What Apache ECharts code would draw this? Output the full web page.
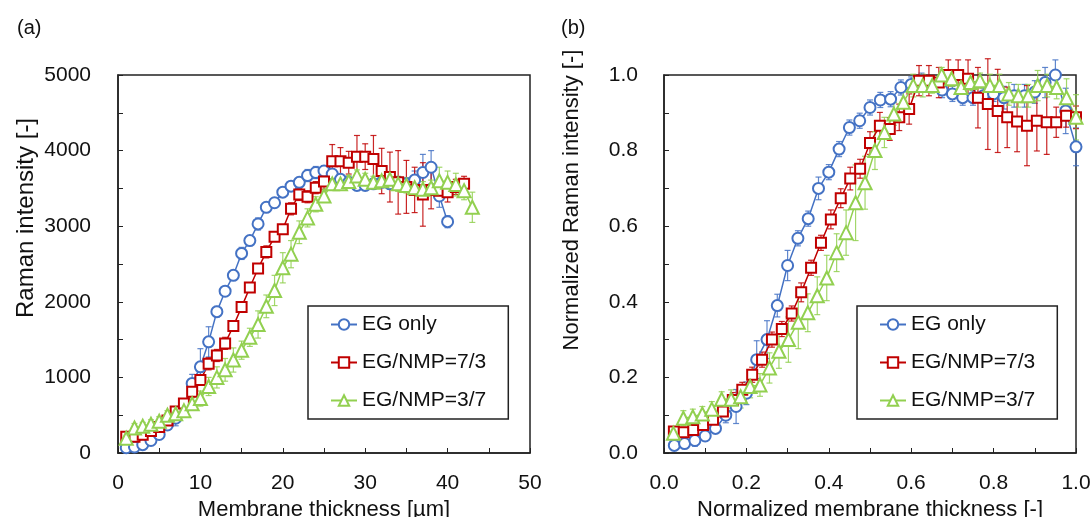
<!DOCTYPE html>
<html><head><meta charset="utf-8">
<script src="https://cdn.jsdelivr.net/npm/echarts@6/dist/echarts.min.js"></script>
<style>html,body{margin:0;padding:0;background:#fff}#c{width:1090px;height:517px}</style>
</head><body><div id="c"></div>
<script>
const seriesNames = ['EG only', 'EG/NMP=7/3', 'EG/NMP=3/7'];
const panelLabels = ['(a)', '(b)'];
const axisNamesA = ['Membrane thickness [µm]', 'Raman intensity [-]'];
const axisNamesB = ['Normalized membrane thickness [-]', 'Normalized Raman intensity [-]'];

// ---------- Panel (a): Raman intensity vs membrane thickness ----------
const thickBlueA = [1,2,3,4,5,6,7,8,9,10,11,12,13,14,15,16,17,18,19,20,21,22,23,24,25,26,27,28,29,30,31,32,33,34,35,36,37,38,39,40];
const ramanBlueA = [70,80,110,165,245,370,460,600,920,1140,1470,1870,2140,2350,2640,2810,3030,3250,3310,3450,3530,3580,3670,3710,3730,3690,3620,3580,3540,3540,3560,3580,3560,3580,3560,3610,3710,3780,3400,3060];
const errBlueA = [20,20,30,30,40,40,100,60,120,240,200,70,60,60,80,60,80,60,50,60,60,60,80,80,70,60,60,60,60,60,60,60,60,60,80,120,240,220,150,80];

const thickRedA = [1,2,3,4,5,6,7,8,9,10,11,12,13,14,15,16,17,18,19,20,21,22,23,24,25,26,27,28,29,30,31,32,33,34,35,36,37,38,39,40,41,42];
const ramanRedA = [215,215,240,290,345,430,550,655,810,965,1180,1290,1450,1680,1930,2190,2440,2660,2860,2960,3230,3420,3390,3510,3590,3860,3860,3840,3920,3920,3890,3730,3650,3580,3520,3480,3420,3480,3470,3450,3520,3560];
const errRedA = [30,30,30,40,40,50,60,60,60,60,80,80,80,60,60,60,60,80,60,60,80,80,80,80,100,220,180,150,280,170,310,300,330,420,350,300,420,250,130,130,100,100];

const thickGreenA = [1,2,3,4,5,6,7,8,9,10,11,12,13,14,15,16,17,18,19,20,21,22,23,24,25,26,27,28,29,30,31,32,33,34,35,36,37,38,39,40,41,42,43];
const ramanGreenA = [195,330,355,380,420,500,520,560,650,720,880,1000,1100,1230,1360,1530,1700,1940,2150,2450,2630,2920,3110,3290,3400,3560,3560,3590,3665,3620,3580,3600,3620,3560,3540,3510,3490,3510,3600,3580,3550,3470,3250];
const errGreenA = [40,60,50,60,60,60,80,80,80,100,120,140,150,160,120,120,180,150,200,200,180,150,120,100,80,80,80,80,80,80,80,80,80,100,100,100,100,100,180,150,150,120,200];

// ---------- Panel (b): normalized ----------
const thickBlueB = [0.025,0.05,0.075,0.1,0.125,0.15,0.175,0.2,0.225,0.25,0.275,0.3,0.325,0.35,0.375,0.4,0.425,0.45,0.475,0.5,0.525,0.55,0.575,0.6,0.625,0.65,0.675,0.7,0.725,0.75,0.775,0.8,0.825,0.85,0.875,0.9,0.925,0.95,0.975,1.0];
const normBlueB = [0.02,0.025,0.033,0.045,0.065,0.10,0.123,0.158,0.247,0.30,0.39,0.496,0.568,0.62,0.70,0.743,0.804,0.861,0.879,0.914,0.934,0.936,0.967,0.975,0.985,0.975,0.96,0.95,0.94,0.94,0.945,0.95,0.94,0.945,0.945,0.955,0.98,1.0,0.905,0.81];
const errBlueB = [0.01,0.01,0.015,0.01,0.01,0.02,0.045,0.03,0.05,0.05,0.03,0.04,0.02,0.02,0.03,0.02,0.02,0.02,0.02,0.02,0.02,0.02,0.02,0.02,0.02,0.02,0.02,0.02,0.02,0.02,0.02,0.02,0.03,0.03,0.03,0.03,0.04,0.04,0.06,0.05];

const thickRedB = [0.024,0.048,0.071,0.095,0.119,0.143,0.167,0.19,0.214,0.238,0.262,0.286,0.31,0.333,0.357,0.381,0.405,0.429,0.452,0.476,0.5,0.524,0.548,0.571,0.595,0.619,0.643,0.667,0.69,0.714,0.738,0.762,0.786,0.81,0.833,0.857,0.881,0.905,0.929,0.952,0.976,1.0];
const normRedB = [0.057,0.055,0.061,0.074,0.088,0.11,0.14,0.167,0.207,0.247,0.30,0.328,0.369,0.425,0.49,0.556,0.618,0.674,0.726,0.752,0.82,0.866,0.857,0.888,0.91,0.985,0.985,0.98,1.0,1.0,0.99,0.94,0.923,0.905,0.888,0.877,0.866,0.879,0.875,0.875,0.892,0.888];
const errRedB = [0.01,0.01,0.01,0.01,0.015,0.015,0.02,0.02,0.02,0.02,0.02,0.02,0.02,0.025,0.02,0.02,0.025,0.025,0.03,0.025,0.03,0.035,0.03,0.035,0.04,0.04,0.04,0.04,0.04,0.04,0.05,0.08,0.12,0.11,0.08,0.08,0.106,0.08,0.085,0.04,0.03,0.03];

const thickGreenB = [0.023,0.047,0.07,0.093,0.116,0.14,0.163,0.186,0.209,0.233,0.256,0.279,0.302,0.326,0.349,0.372,0.395,0.419,0.442,0.465,0.488,0.512,0.535,0.558,0.581,0.605,0.628,0.651,0.674,0.698,0.721,0.744,0.767,0.791,0.814,0.837,0.86,0.884,0.907,0.93,0.953,0.977,1.0];
const normGreenB = [0.052,0.092,0.096,0.103,0.116,0.142,0.142,0.149,0.176,0.18,0.225,0.269,0.30,0.346,0.371,0.416,0.463,0.53,0.583,0.662,0.715,0.80,0.848,0.897,0.928,0.972,0.972,0.972,1.0,0.99,0.967,0.98,0.985,0.972,0.972,0.95,0.945,0.945,0.972,0.972,0.967,0.94,0.888];
const errGreenB = [0.015,0.02,0.02,0.02,0.02,0.02,0.025,0.03,0.03,0.03,0.04,0.045,0.06,0.07,0.05,0.05,0.06,0.05,0.06,0.1,0.07,0.05,0.04,0.03,0.03,0.03,0.03,0.02,0.02,0.02,0.02,0.02,0.02,0.03,0.03,0.03,0.03,0.03,0.04,0.03,0.03,0.05,0.06];

// ---------- styling ----------
const colors = ['#4472C4', '#C00000', '#92D050'];
const symbols = ['circle', 'rect', 'triangle'];
const symbolSizes = [11, 10, 13];
const FONT = "'Liberation Sans', Arial, sans-serif";
const TXT = '#111';

function zip(xs, ys, es) { return xs.map((x, i) => es ? [x, ys[i], es[i]] : [x, ys[i]]); }

function renderErr(params, api) {
  const x = api.value(0), y = api.value(1), e = api.value(2);
  const p1 = api.coord([x, y + e]), p2 = api.coord([x, y - e]);
  const c = api.visual('color');
  const w = 3;
  const st = { stroke: c, lineWidth: 1.2, opacity: 0.85 };
  return { type: 'group', children: [
    { type: 'line', shape: { x1: p1[0], y1: p1[1], x2: p2[0], y2: p2[1] }, style: st },
    { type: 'line', shape: { x1: p1[0] - w, y1: p1[1], x2: p1[0] + w, y2: p1[1] }, style: st },
    { type: 'line', shape: { x1: p2[0] - w, y1: p2[1], x2: p2[0] + w, y2: p2[1] }, style: st }
  ]};
}

function lineSeries(k, xs, ys, idx) {
  return {
    name: seriesNames[k], type: 'line', xAxisIndex: idx, yAxisIndex: idx,
    data: zip(xs, ys), symbol: symbols[k], symbolSize: symbolSizes[k],
    showAllSymbol: true, z: 3, animation: false,
    lineStyle: { color: colors[k], width: 1.5 },
    itemStyle: { color: '#fff', borderColor: colors[k], borderWidth: 2 }
  };
}
function errSeries(k, xs, ys, es, idx) {
  return {
    name: seriesNames[k] + ' error', type: 'custom', xAxisIndex: idx, yAxisIndex: idx,
    data: zip(xs, ys, es), renderItem: renderErr, encode: { x: 0, y: 1 },
    itemStyle: { color: colors[k] }, z: 2, animation: false, silent: true
  };
}

const axisCommon = {
  type: 'value',
  axisLine: { show: true, lineStyle: { color: '#222', width: 1.5 } },
  axisTick: { show: true, inside: true, length: 5, lineStyle: { color: '#222', width: 1 } },
  splitLine: { show: false },
  nameTextStyle: { fontFamily: FONT, fontSize: 21, color: TXT },
};
function lbl(fmt, margin) {
  return { fontFamily: FONT, fontSize: 21, color: TXT, margin: margin, formatter: fmt, showMinLabel: true, showMaxLabel: true };
}
const fmtA_x = v => (Math.round(v) % 10 === 0 ? String(Math.round(v)) : '');
const fmtA_y = v => (Math.round(v) % 1000 === 0 ? String(Math.round(v)) : '');
const fmtB = v => (Math.round(v * 10) % 2 === 0 ? v.toFixed(1) : '');

function legendFor(left) {
  return {
    data: seriesNames, orient: 'vertical', left: left, top: 306,
    padding: [8, 22, 8, 22], itemGap: 17, itemWidth: 26, itemHeight: 13,
    borderColor: '#222', borderWidth: 1.5, backgroundColor: '#fff',
    textStyle: { fontFamily: FONT, fontSize: 21, color: TXT },
    selectedMode: false
  };
}

const option = {
  backgroundColor: '#fff',
  animation: false,
  title: [
    { text: panelLabels[0], left: 12, top: 13, textStyle: { fontFamily: FONT, fontSize: 20, fontWeight: 'normal', color: TXT } },
    { text: panelLabels[1], left: 556, top: 13, textStyle: { fontFamily: FONT, fontSize: 20, fontWeight: 'normal', color: TXT } }
  ],
  grid: [
    { left: 118, top: 75, width: 412, height: 378, show: true, borderColor: '#222', borderWidth: 1.5, outerBoundsMode: 'none', containLabel: false },
    { left: 664, top: 75, width: 412, height: 378, show: true, borderColor: '#222', borderWidth: 1.5, outerBoundsMode: 'none', containLabel: false }
  ],
  xAxis: [
    Object.assign({}, axisCommon, { gridIndex: 0, min: 0, max: 50, interval: 5, axisLabel: lbl(fmtA_x, 20),
      name: axisNamesA[0], nameLocation: 'middle', nameGap: 46,
      nameTextStyle: { fontFamily: FONT, fontSize: 22, color: TXT } }),
    Object.assign({}, axisCommon, { gridIndex: 1, min: 0, max: 1, interval: 0.1, axisLabel: lbl(fmtB, 20),
      name: axisNamesB[0], nameLocation: 'middle', nameGap: 46,
      nameTextStyle: { fontFamily: FONT, fontSize: 22, color: TXT } })
  ],
  yAxis: [
    Object.assign({}, axisCommon, { gridIndex: 0, min: 0, max: 5000, interval: 500, axisLabel: lbl(fmtA_y, 27),
      name: axisNamesA[1], nameLocation: 'middle', nameGap: 80,
      nameTextStyle: { fontFamily: FONT, fontSize: 24, color: TXT, padding: [0, 0, 0, 92] } }),
    Object.assign({}, axisCommon, { gridIndex: 1, min: 0, max: 1, interval: 0.1, axisLabel: lbl(fmtB, 26),
      name: axisNamesB[1], nameLocation: 'middle', nameGap: 81,
      nameTextStyle: { fontFamily: FONT, fontSize: 22, color: TXT, padding: [0, 0, 0, 128] } })
  ],
  legend: [legendFor(308), legendFor(857)],
  series: [
    errSeries(0, thickBlueA, ramanBlueA, errBlueA, 0),
    errSeries(1, thickRedA, ramanRedA, errRedA, 0),
    errSeries(2, thickGreenA, ramanGreenA, errGreenA, 0),
    lineSeries(0, thickBlueA, ramanBlueA, 0),
    lineSeries(1, thickRedA, ramanRedA, 0),
    lineSeries(2, thickGreenA, ramanGreenA, 0),
    errSeries(0, thickBlueB, normBlueB, errBlueB, 1),
    errSeries(1, thickRedB, normRedB, errRedB, 1),
    errSeries(2, thickGreenB, normGreenB, errGreenB, 1),
    lineSeries(0, thickBlueB, normBlueB, 1),
    lineSeries(1, thickRedB, normRedB, 1),
    lineSeries(2, thickGreenB, normGreenB, 1)
  ]
};
const chart = echarts.init(document.getElementById('c'), null, { renderer: 'canvas' });
chart.setOption(option);
</script></body></html>
